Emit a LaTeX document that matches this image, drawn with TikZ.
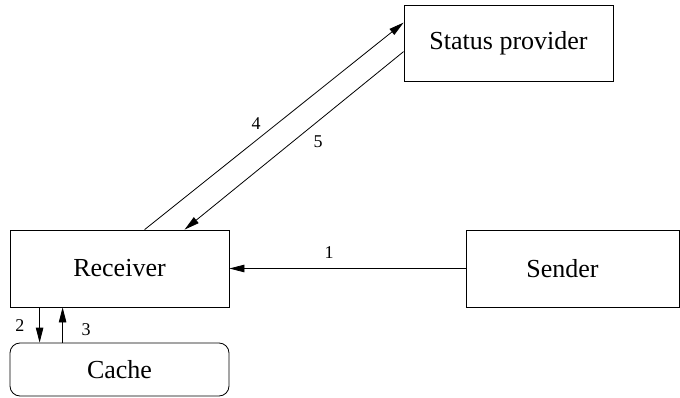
\documentclass[tikz,border=0pt]{standalone}
\usepackage{fontspec}
\setmainfont{Liberation Serif}
\newfontfamily\diagserif{Liberation Serif}
\usetikzlibrary{arrows.meta}
\begin{document}
\begin{tikzpicture}[x=1pt,y=-1pt,
  box/.style={draw,line width=0.8pt,inner sep=0pt,font=\diagserif\fontsize{26}{30}\selectfont},
  conn/.style={line width=0.8pt,-{Triangle[length=15pt,width=7.5pt]}},
  lbl/.style={font=\diagserif\fontsize{18}{21}\selectfont,inner sep=0pt}]
\useasboundingbox (0,0) rectangle (680,398);
\node[box,minimum width=219pt,minimum height=77pt] (receiver) at (119.5,268.5) {Receiver};
\node[box,minimum width=219pt,minimum height=53pt,rounded corners=10pt] (cache) at (119.5,369.5) {Cache};
\node[box,minimum width=213pt,minimum height=77pt,label={[xshift=-10pt,font=\diagserif\fontsize{26}{30}\selectfont]center:Sender}] (sender) at (572.5,268.5) {};
\node[box,minimum width=209pt,minimum height=76pt] (status) at (508.5,43) {Status provider};
\draw[conn] (sender.west) -- (receiver.east);
\draw[conn] ([xshift=30pt]receiver.south west) -- ([xshift=30pt]cache.north west);
\draw[conn] ([xshift=53pt]cache.north west) -- ([xshift=53pt]receiver.south west);
\draw[conn] ([xshift=135pt]receiver.north west) -- ([yshift=-18pt]status.north west);
\draw[conn] ([yshift=-47pt]status.north west) -- ([xshift=175pt]receiver.north west);
\node[lbl] (l1) at (329,253) {1};
\node[lbl] (l2) at (20,326) {2};
\node[lbl] (l3) at (86,330) {3};
\node[lbl] (l4) at (256,124) {4};
\node[lbl] (l5) at (318,142) {5};
\end{tikzpicture}
\end{document}
